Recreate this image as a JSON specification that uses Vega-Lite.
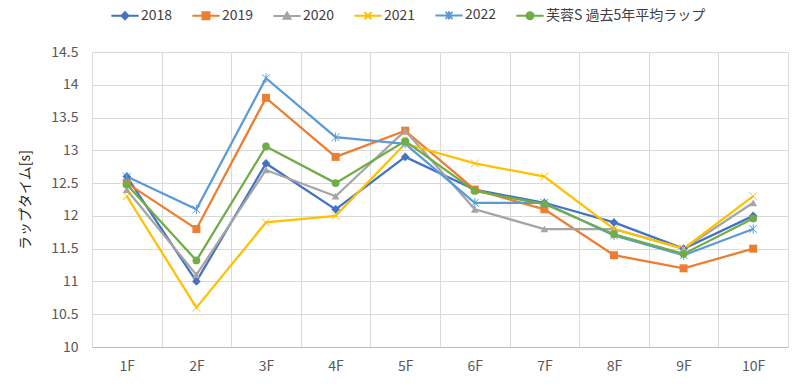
{
  "$schema": "https://vega.github.io/schema/vega-lite/v6.json",
  "width": 696,
  "height": 295,
  "autosize": {"type": "none"},
  "padding": {"left": 92, "top": 52, "right": 12, "bottom": 39},
  "background": "white",
  "config": {
    "font": "Noto Sans CJK JP",
    "view": {"stroke": null},
    "axis": {"labelFont": "Noto Sans CJK JP", "titleFont": "Noto Sans CJK JP", "labelColor": "#595959", "labelFontSize": 14, "gridColor": "#d9d9d9", "gridWidth": 1}
  },
  "data": {
    "values": [
      {"lap": "1F", "series": "2018", "time": 12.6},
      {"lap": "2F", "series": "2018", "time": 11.0},
      {"lap": "3F", "series": "2018", "time": 12.8},
      {"lap": "4F", "series": "2018", "time": 12.1},
      {"lap": "5F", "series": "2018", "time": 12.9},
      {"lap": "6F", "series": "2018", "time": 12.4},
      {"lap": "7F", "series": "2018", "time": 12.2},
      {"lap": "8F", "series": "2018", "time": 11.9},
      {"lap": "9F", "series": "2018", "time": 11.5},
      {"lap": "10F", "series": "2018", "time": 12.0},
      {"lap": "1F", "series": "2019", "time": 12.5},
      {"lap": "2F", "series": "2019", "time": 11.8},
      {"lap": "3F", "series": "2019", "time": 13.8},
      {"lap": "4F", "series": "2019", "time": 12.9},
      {"lap": "5F", "series": "2019", "time": 13.3},
      {"lap": "6F", "series": "2019", "time": 12.4},
      {"lap": "7F", "series": "2019", "time": 12.1},
      {"lap": "8F", "series": "2019", "time": 11.4},
      {"lap": "9F", "series": "2019", "time": 11.2},
      {"lap": "10F", "series": "2019", "time": 11.5},
      {"lap": "1F", "series": "2020", "time": 12.4},
      {"lap": "2F", "series": "2020", "time": 11.1},
      {"lap": "3F", "series": "2020", "time": 12.7},
      {"lap": "4F", "series": "2020", "time": 12.3},
      {"lap": "5F", "series": "2020", "time": 13.3},
      {"lap": "6F", "series": "2020", "time": 12.1},
      {"lap": "7F", "series": "2020", "time": 11.8},
      {"lap": "8F", "series": "2020", "time": 11.8},
      {"lap": "9F", "series": "2020", "time": 11.5},
      {"lap": "10F", "series": "2020", "time": 12.2},
      {"lap": "1F", "series": "2021", "time": 12.3},
      {"lap": "2F", "series": "2021", "time": 10.6},
      {"lap": "3F", "series": "2021", "time": 11.9},
      {"lap": "4F", "series": "2021", "time": 12.0},
      {"lap": "5F", "series": "2021", "time": 13.1},
      {"lap": "6F", "series": "2021", "time": 12.8},
      {"lap": "7F", "series": "2021", "time": 12.6},
      {"lap": "8F", "series": "2021", "time": 11.8},
      {"lap": "9F", "series": "2021", "time": 11.5},
      {"lap": "10F", "series": "2021", "time": 12.3},
      {"lap": "1F", "series": "2022", "time": 12.6},
      {"lap": "2F", "series": "2022", "time": 12.1},
      {"lap": "3F", "series": "2022", "time": 14.1},
      {"lap": "4F", "series": "2022", "time": 13.2},
      {"lap": "5F", "series": "2022", "time": 13.1},
      {"lap": "6F", "series": "2022", "time": 12.2},
      {"lap": "7F", "series": "2022", "time": 12.2},
      {"lap": "8F", "series": "2022", "time": 11.7},
      {"lap": "9F", "series": "2022", "time": 11.4},
      {"lap": "10F", "series": "2022", "time": 11.8},
      {"lap": "1F", "series": "芙蓉S 過去5年平均ラップ", "time": 12.48},
      {"lap": "2F", "series": "芙蓉S 過去5年平均ラップ", "time": 11.32},
      {"lap": "3F", "series": "芙蓉S 過去5年平均ラップ", "time": 13.06},
      {"lap": "4F", "series": "芙蓉S 過去5年平均ラップ", "time": 12.5},
      {"lap": "5F", "series": "芙蓉S 過去5年平均ラップ", "time": 13.14},
      {"lap": "6F", "series": "芙蓉S 過去5年平均ラップ", "time": 12.38},
      {"lap": "7F", "series": "芙蓉S 過去5年平均ラップ", "time": 12.18},
      {"lap": "8F", "series": "芙蓉S 過去5年平均ラップ", "time": 11.72},
      {"lap": "9F", "series": "芙蓉S 過去5年平均ラップ", "time": 11.42},
      {"lap": "10F", "series": "芙蓉S 過去5年平均ラップ", "time": 11.96}
    ]
  },
  "encoding": {
    "x": {
      "field": "lap", "type": "ordinal",
      "sort": ["1F","2F","3F","4F","5F","6F","7F","8F","9F","10F"],
      "scale": {"type": "band", "paddingInner": 0, "paddingOuter": 0},
      "axis": {"title": null, "labelAngle": 0, "grid": true, "tickBand": "extent", "ticks": false, "domainColor": "#bfbfbf", "domainWidth": 1, "labelPadding": 12}
    },
    "y": {
      "field": "time", "type": "quantitative",
      "scale": {"domain": [10, 14.5], "nice": false, "zero": false},
      "axis": {"title": "ラップタイム[s]", "values": [10,10.5,11,11.5,12,12.5,13,13.5,14,14.5], "format": "~f", "domain": false, "ticks": false, "labelPadding": 14, "titleColor": "#262626", "titleFontSize": 14, "titleFontWeight": "normal", "titlePadding": 18}
    },
    "color": {
      "field": "series", "type": "nominal",
      "scale": {"domain": ["2018","2019","2020","2021","2022","芙蓉S 過去5年平均ラップ"], "range": ["#4472C4","#ED7D31","#A5A5A5","#FFC000","#5B9BD5","#70AD47"]},
      "legend": {
        "title": null, "orient": "none", "direction": "horizontal", "legendX": 26, "legendY": -44, "padding": 0,
        "symbolType": "circle", "symbolSize": 49, "labelOffset": 9, "columnPadding": 15, "labelFontSize": 14, "labelColor": "#404040", "labelFont": "Noto Sans CJK JP",
        "encode": {
          "symbols": {
            "update": {
              "shape": {"signal": "datum.value === '2018' ? 'M-3.9,0L3.9,0M0,-1L1,0L0,1L-1,0Z' : datum.value === '2019' ? 'M-3.9,0L3.9,0M-1,-1L1,-1L1,1L-1,1Z' : datum.value === '2020' ? 'M-3.9,0L3.9,0M0,-1L1,0.8L-1,0.8Z' : datum.value === '2021' ? 'M-3.9,0L3.9,0M-1,-1L1,1M-1,1L1,-1' : datum.value === '2022' ? 'M-3.9,0L3.9,0M-1,-1L1,1M-1,1L1,-1M0,-1.2L0,1.2' : 'M-3.9,0L3.9,0M-1,0A1,1,0,1,1,1,0A1,1,0,1,1,-1,0Z'"},
              "fill": {"scale": "color", "field": "value"},
              "stroke": {"scale": "color", "field": "value"},
              "strokeWidth": {"value": 2},
              "fillOpacity": {"value": 1},
              "opacity": {"value": 1}
            }
          }
        }
      }
    }
  },
  "layer": [
    {"mark": {"type": "line", "strokeWidth": 2.25}},
    {"transform": [{"filter": "datum.series === '2018'"}], "mark": {"type": "point", "shape": "diamond", "filled": true, "size": 75, "opacity": 1}},
    {"transform": [{"filter": "datum.series === '2019'"}], "mark": {"type": "point", "shape": "square", "filled": true, "size": 64, "opacity": 1}},
    {"transform": [{"filter": "datum.series === '2020'"}], "mark": {"type": "point", "shape": "triangle-up", "filled": true, "size": 60, "opacity": 1}},
    {"transform": [{"filter": "datum.series === '2021'"}], "mark": {"type": "point", "shape": "M-1,-1L1,1M-1,1L1,-1", "filled": false, "size": 60, "strokeWidth": 1, "opacity": 1}},
    {"transform": [{"filter": "datum.series === '2022'"}], "mark": {"type": "point", "shape": "M-1,-1L1,1M-1,1L1,-1M0,-1.2L0,1.2", "filled": false, "size": 60, "strokeWidth": 1, "opacity": 1}},
    {"transform": [{"filter": "datum.series === '芙蓉S 過去5年平均ラップ'"}], "mark": {"type": "point", "shape": "circle", "filled": true, "size": 60, "opacity": 1}}
  ]
}
